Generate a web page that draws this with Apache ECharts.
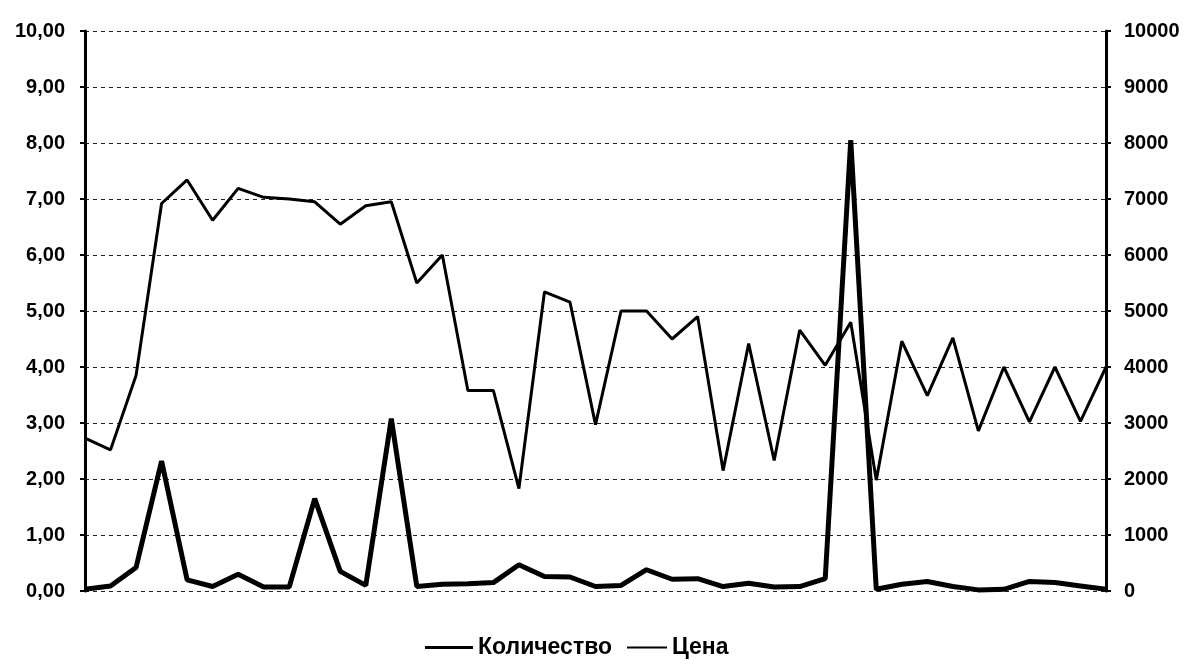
<!DOCTYPE html>
<html>
<head>
<meta charset="utf-8">
<script src="https://cdn.jsdelivr.net/npm/echarts@6/dist/echarts.min.js"></script>
<style>
html,body{margin:0;padding:0;background:#fff;}
#chart{width:1184px;height:664px;}
</style>
</head>
<body>
<div id="chart"></div>
<script>
// Categories (41 periods)
var categories = [];
for (var i = 1; i <= 41; i++) categories.push(String(i));

// Количество (left axis, 0..10)
var kolichestvo = [0.03, 0.09, 0.42, 2.32, 0.2, 0.08, 0.3, 0.07, 0.07, 1.65,
  0.35, 0.1, 3.08, 0.08, 0.12, 0.13, 0.15, 0.47, 0.26, 0.25,
  0.08, 0.1, 0.38, 0.21, 0.22, 0.08, 0.14, 0.07, 0.08, 0.22,
  8.05, 0.03, 0.12, 0.17, 0.08, 0.02, 0.03, 0.17, 0.15, 0.09, 0.03];

// Цена (right axis, 0..10000)
var tsena = [2730, 2520, 3850, 6920, 7340, 6620, 7190, 7030, 7000, 6950,
  6550, 6880, 6950, 5500, 6000, 3580, 3580, 1830, 5340, 5160,
  2970, 5000, 5000, 4500, 4900, 2150, 4420, 2330, 4660, 4030,
  4800, 1980, 4460, 3490, 4520, 2860, 4000, 3020, 4000, 3030, 4000];

var chart = echarts.init(document.getElementById('chart'), null, {renderer: 'canvas'});
var font = 'Liberation Sans, Arial, sans-serif';
chart.setOption({
  animation: false,
  backgroundColor: '#ffffff',
  grid: {left: 85, right: 78, top: 31, bottom: 73},
  legend: [{
    data: ['Количество'],
    left: 420, top: 631,
    icon: 'rect', itemWidth: 48, itemHeight: 3,
    textStyle: {fontFamily: font, fontWeight: 'bold', fontSize: 23, color: '#000'}
  }, {
    data: ['Цена'],
    left: 622, top: 631,
    icon: 'rect', itemWidth: 40, itemHeight: 2,
    textStyle: {fontFamily: font, fontWeight: 'bold', fontSize: 23, color: '#000'}
  }],
  xAxis: {
    type: 'category',
    data: categories,
    boundaryGap: false,
    axisLine: {show: false},
    axisTick: {show: false},
    axisLabel: {show: false},
    splitLine: {show: false}
  },
  yAxis: [{
    type: 'value',
    min: 0, max: 10, interval: 1,
    position: 'left',
    axisLine: {show: true, lineStyle: {color: '#000', width: 3}},
    axisTick: {show: true, length: 5, lineStyle: {color: '#000', width: 2}},
    axisLabel: {
      margin: 20,
      fontFamily: font, fontWeight: 'bold', fontSize: 20, color: '#000',
      formatter: function (v) { return v.toFixed(2).replace('.', ','); }
    },
    splitLine: {show: true, lineStyle: {color: '#222', width: 1, type: [4, 4]}}
  }, {
    type: 'value',
    min: 0, max: 10000, interval: 1000,
    position: 'right',
    axisLine: {show: true, lineStyle: {color: '#000', width: 3}},
    axisTick: {show: true, length: 5, lineStyle: {color: '#000', width: 2}},
    axisLabel: {
      margin: 18,
      fontFamily: font, fontWeight: 'bold', fontSize: 20, color: '#000',
      formatter: function (v) { return String(v); }
    },
    splitLine: {show: false}
  }],
  series: [{
    name: 'Количество',
    type: 'line',
    yAxisIndex: 0,
    data: kolichestvo,
    symbol: 'none',
    lineStyle: {color: '#000', width: 5},
    itemStyle: {color: '#000'},
    z: 3
  }, {
    name: 'Цена',
    type: 'line',
    yAxisIndex: 1,
    data: tsena,
    symbol: 'none',
    lineStyle: {color: '#000', width: 3},
    itemStyle: {color: '#000'},
    z: 2
  }]
});
</script>
</body>
</html>
